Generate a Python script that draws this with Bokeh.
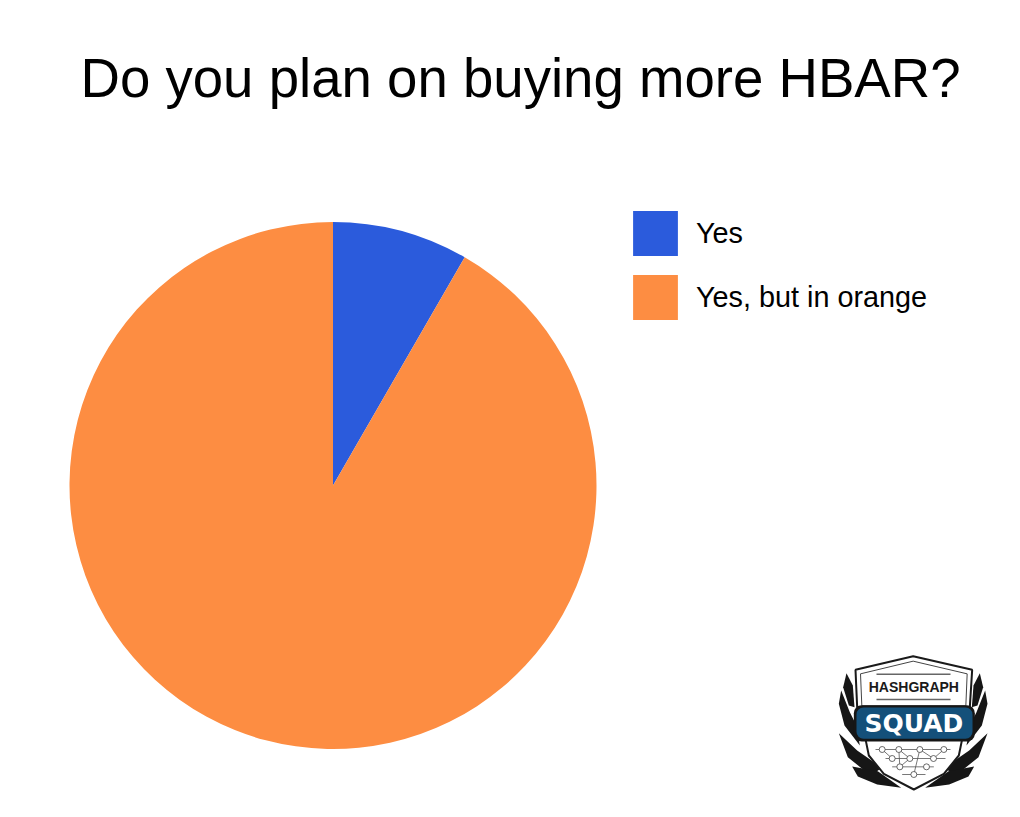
import math
from bokeh.plotting import figure
from bokeh.models import Range1d, Legend, LegendItem
from bokeh.core.properties import value
from bokeh.embed import file_html
from bokeh.resources import INLINE

title_text = "Do you plan on buying more HBAR?"
categories = ["Yes", "Yes, but in orange"]
shares = [8.33, 91.67]
colors = ["#2b5bdc", "#fd8d42"]

W, H = 1012, 809
FULL_H = 817
p = figure(width=W, height=H, x_range=Range1d(0, W), y_range=Range1d(FULL_H - H, FULL_H),
           output_backend="svg", toolbar_location=None, min_border=0,
           background_fill_color="white", border_fill_color="white", outline_line_color=None)
p.axis.visible = False
p.grid.visible = False

Y = lambda y: FULL_H - y

# pie
total = sum(shares)
cx, cy, r = 332.5, Y(485), 263.5
items = []
a = math.pi / 2
for cat, s, c in zip(categories, shares, colors):
    b = a - 2 * math.pi * s / total
    g = p.wedge(x=[cx], y=[cy], radius=r, start_angle=b, end_angle=a,
                fill_color=c, line_color=None)
    items.append(LegendItem(label=cat, renderers=[g]))
    a = b

legend = Legend(items=items, location=(627, 484), orientation="vertical",
                glyph_width=56, glyph_height=56, spacing=8, padding=0, margin=0,
                label_standoff=13, label_text_font="Liberation Sans", label_text_font_size="28.8px",
                label_text_color="#000000", border_line_color=None, background_fill_alpha=0)
p.add_layout(legend, "center")

# title
p.text(x=[80], y=[Y(78)], text=[title_text], text_font=value("Liberation Sans"),
       text_font_size="54.6px", text_color="#000000", text_baseline="alphabetic", text_align="left")

# logo (decoration), drawn in 3x crop coordinates of its own box
LX = lambda z: 820 + z / 3
LY = lambda z: Y(640 + z / 3)
def poly(pts, fill, line=None, lw=1):
    p.patch([LX(a) for a, _ in pts], [LY(b) for _, b in pts], fill_color=fill,
            line_color=line, line_width=lw)
def seg(pts, color="#333333", lw=1):
    p.line([LX(a) for a, _ in pts], [LY(b) for _, b in pts], line_color=color, line_width=lw)

wings = [
    [(78, 98), (97, 135), (102, 200), (85, 195), (68, 140)],
    [(62, 150), (88, 215), (108, 255), (118, 315), (72, 255), (55, 190)],
    [(55, 278), (110, 330), (185, 382), (150, 405), (82, 350)],
    [(95, 378), (172, 392), (242, 442), (170, 432), (112, 408)],
]
for w in wings:
    poly(w, "#161616")
    poly([(556 - a, b) for a, b in w], "#161616")

poly([(105, 88), (278, 47), (455, 88), (448, 200), (110, 200)], "#ffffff", "#1a1a1a", 2)
poly([(120, 100), (278, 62), (440, 100), (436, 196), (124, 196)], "#ffffff", "#444444", 1)
poly([(135, 296), (425, 296), (415, 345), (370, 400), (280, 447), (190, 400), (145, 345)], "#ffffff", "#1a1a1a", 2)
seg([(168, 101), (390, 101)], "#666666", 1.5)
seg([(168, 177), (390, 177)], "#666666", 1.5)

p.quad(left=[LX(100)], right=[LX(463)], top=[LY(194)], bottom=[LY(303)], fill_color="#161616",
       line_color=None, border_radius=8)
p.quad(left=[LX(108)], right=[LX(456)], top=[LY(201)], bottom=[LY(295)], fill_color="#14507a",
       line_color=None, border_radius=7)

p.text(x=[LX(280)], y=[LY(139)], text=["HASHGRAPH"], text_font=value("Liberation Sans"),
       text_font_style="bold", text_font_size="14px", text_color="#1a1a1a",
       text_align="center", text_baseline="middle")
p.text(x=[LX(280)], y=[LY(248)], text=["SQUAD"], text_font=value("DejaVu Sans"),
       text_font_style="bold", text_font_size="25px", text_color="#ffffff",
       text_align="center", text_baseline="middle")

for row in ([(165, 327), (390, 327)], [(195, 354), (375, 354)], [(215, 379), (340, 379)], [(245, 402), (315, 402)],
            [(185, 327), (215, 354)], [(235, 327), (268, 354)], [(298, 327), (339, 354)],
            [(370, 327), (339, 354)], [(235, 327), (238, 379)], [(268, 354), (238, 379)], [(298, 327), (280, 402)]):
    seg(row, "#555555", 0.8)
nodes = [(185, 327), (235, 327), (298, 327), (370, 327), (215, 354), (268, 354), (339, 354), (238, 379), (318, 379), (280, 402)]
p.scatter(x=[LX(a) for a, _ in nodes], y=[LY(b) for _, b in nodes], size=6, marker="circle",
          fill_color="#ffffff", line_color="#444444", line_width=0.8)

open("out.html", "w").write(file_html(p, INLINE))
